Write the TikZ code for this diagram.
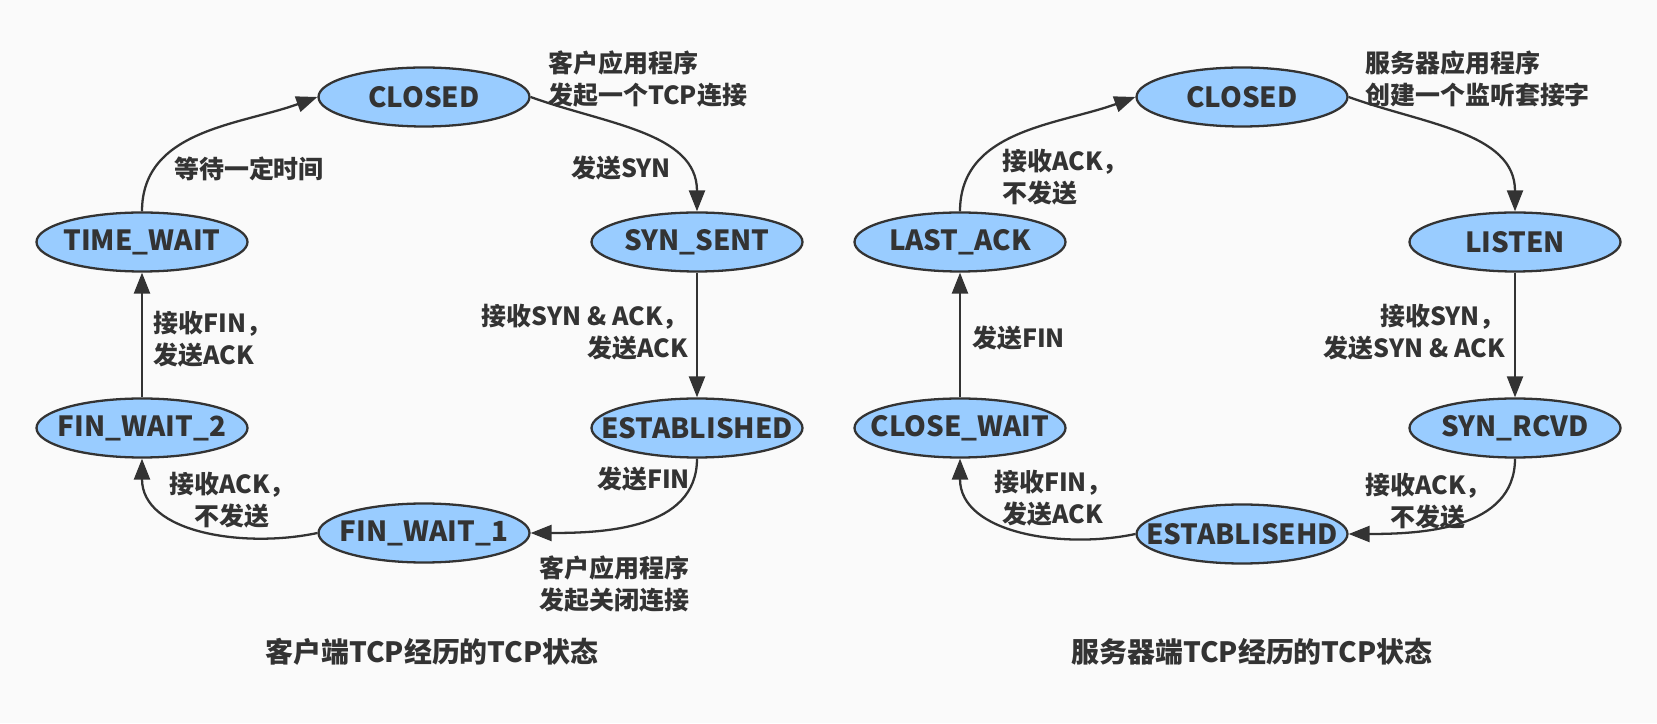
\documentclass[tikz,border=0pt]{standalone}
\usepackage{fontspec}
\setmainfont{Noto Sans CJK SC}
\usetikzlibrary{arrows.meta,shapes.geometric,positioning}
\usepackage{xcolor}
\definecolor{tcpblue}{RGB}{153,204,255}
\definecolor{tcpgray}{RGB}{51,51,51}
\definecolor{tcpbg}{RGB}{250,250,250}
\tikzset{
    tcpstate/.style={
        ellipse,draw=tcpgray,line width=1.3pt,fill=tcpblue,
        minimum width=4.22cm,minimum height=1.18cm,inner sep=0pt,
        font=\fontsize{15.8}{19}\selectfont\bfseries,text=tcpgray
    },
    note/.style={
        inner sep=0pt,align=#1,
        font=\fontsize{14.2}{18.2}\selectfont\bfseries,text=tcpgray
    },
    note/.default=left,
    caption/.style={
        inner sep=0pt,font=\fontsize{15.9}{20}\selectfont\bfseries,text=tcpgray
    },
    trans/.style={
        -{Triangle[length=0.42cm,width=0.32cm]},line width=1.3pt,draw=tcpgray
    }
}
\newcommand{\sname}[1]{\makebox[0pt]{#1}}

\begin{document}
\begin{tikzpicture}

\fill[tcpbg] (0,0) rectangle (33.14,14.46);

% client side
\node[tcpstate] (cclosed) at (8.48,12.52) {\sname{CLOSED}};
\node[tcpstate] (csynsent) at (13.94,9.62) {\sname{SYN\_SENT}};
\node[tcpstate] (cestab) at (13.94,5.90) {\sname{ESTABLISHED}};
\node[tcpstate] (cfinwait1) at (8.48,3.80) {\sname{FIN\_WAIT\_1}};
\node[tcpstate] (cfinwait2) at (2.84,5.90) {\sname{FIN\_WAIT\_2}};
\node[tcpstate] (ctimewait) at (2.84,9.62) {\sname{TIME\_WAIT}};

\draw[trans] (cclosed.east) to[out=-20,in=90] (csynsent.north);
\draw[trans] (csynsent) -- (cestab);
\draw[trans] (cestab.south) to[out=-90,in=0] (cfinwait1.east);
\draw[trans] (cfinwait1.west) to[out=192,in=-90] (cfinwait2.south);
\draw[trans] (cfinwait2) -- (ctimewait);
\draw[trans] (ctimewait.north) to[out=90,in=200] (cclosed.west);

\node[note,anchor=west] (copen) at (10.96,12.88) {客户应用程序\\发起一个TCP连接};
\node[note] (csyn) at (12.42,11.10) {发送SYN};
\node[note=right,anchor=east] (csynack) at (13.76,7.82) {接收SYN \& ACK，\\发送ACK};
\node[note] (cfin) at (12.87,4.88) {发送FIN};
\node[note,anchor=west] (cclose) at (10.78,2.78) {客户应用程序\\发起关闭连接};
\node[note=center] (cack) at (4.64,4.46) {接收ACK，\\不发送};
\node[note,anchor=west] (cfinack) at (3.06,7.68) {接收FIN，\\发送ACK};
\node[note] (cwait) at (4.98,11.08) {等待一定时间};
\node[caption] (ctitle) at (8.64,1.42) {客户端TCP经历的TCP状态};

% server side
\node[tcpstate] (sclosed) at (24.84,12.52) {\sname{CLOSED}};
\node[tcpstate] (slisten) at (30.30,9.62) {\sname{LISTEN}};
\node[tcpstate] (ssynrcvd) at (30.30,5.90) {\sname{SYN\_RCVD}};
\node[tcpstate] (sestab) at (24.84,3.78) {\sname{ESTABLISEHD}};
\node[tcpstate] (sclosewait) at (19.20,5.90) {\sname{CLOSE\_WAIT}};
\node[tcpstate] (slastack) at (19.20,9.62) {\sname{LAST\_ACK}};

\draw[trans] (sclosed.east) to[out=-20,in=90] (slisten.north);
\draw[trans] (slisten) -- (ssynrcvd);
\draw[trans] (ssynrcvd.south) to[out=-90,in=0] (sestab.east);
\draw[trans] (sestab.west) to[out=192,in=-90] (sclosewait.south);
\draw[trans] (sclosewait) -- (slastack);
\draw[trans] (slastack.north) to[out=90,in=200] (sclosed.west);

\node[note,anchor=west] (sopen) at (27.30,12.88) {服务器应用程序\\创建一个监听套接字};
\node[note=right,anchor=east] (ssyn) at (30.10,7.82) {接收SYN，\\发送SYN \& ACK};
\node[note=center] (sack) at (28.56,4.44) {接收ACK，\\不发送};
\node[note=center] (sfinack) at (21.06,4.50) {接收FIN，\\发送ACK};
\node[note] (sfin) at (20.37,7.70) {发送FIN};
\node[note,anchor=west] (slast) at (20.04,10.92) {接收ACK，\\不发送};
\node[caption] (stitle) at (25.04,1.42) {服务器端TCP经历的TCP状态};

\end{tikzpicture}
\end{document}
